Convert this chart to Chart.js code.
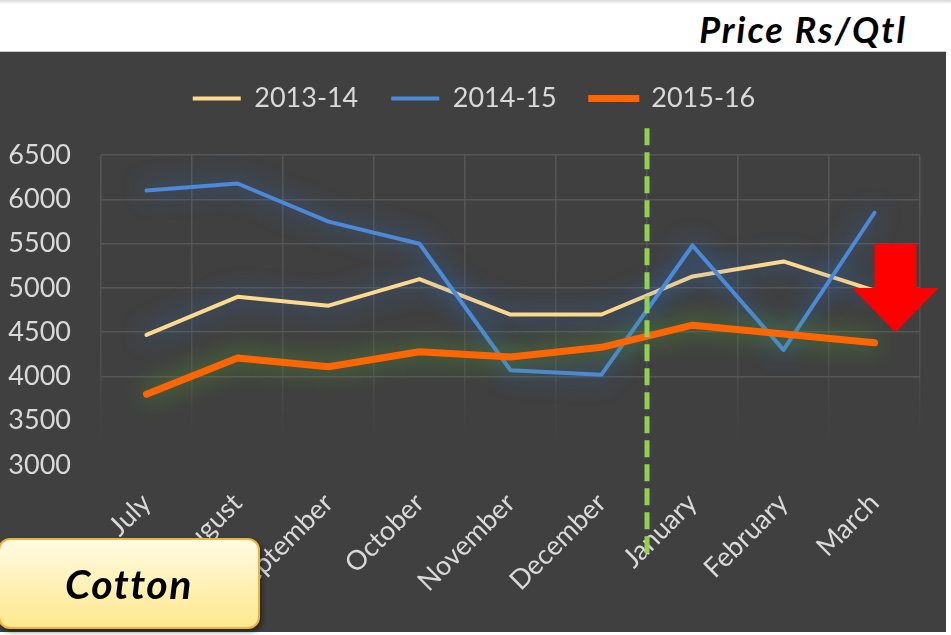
<!DOCTYPE html>
<html>
<head>
<meta charset="utf-8">
<script src="https://cdn.jsdelivr.net/npm/chart.js@4.4.1/dist/chart.umd.min.js"></script>
<style>
  body { margin: 0; background: #fff; width: 951px; height: 635px; overflow: hidden; position: relative; }
  #shade { position: absolute; left: 0; top: 0; width: 951px; height: 4px; background: linear-gradient(#d6d6d6, #fff); }
  #title { position: absolute; right: 44px; top: 11px; font: italic bold 36px Lato, sans-serif; line-height: 36px; letter-spacing: 2px; color: #000; }
  #rule { position: absolute; left: 0; top: 51px; width: 946px; height: 1px; background: #c8c8c8; }
  #panel { position: absolute; left: 0; top: 52px; width: 946px; height: 580px; background: #404040; }
  #badge {
    position: absolute; left: -2px; top: 538px; width: 262px; height: 91px; box-sizing: border-box;
    border: 2px solid #edb43c; border-radius: 12px;
    background: linear-gradient(#fffbe2, #ffe88e);
    box-shadow: 2px 3px 5px rgba(0,0,0,0.45);
    display: flex; align-items: center; justify-content: center;
    font: italic bold 41px Lato, sans-serif; letter-spacing: 1.5px; color: #000;
  }
</style>
</head>
<body>
<div id="shade"></div>
<div id="title">Price Rs/Qtl</div>
<div id="rule"></div>
<div id="panel"><canvas id="cotton"></canvas></div>
<div id="badge">Cotton</div>
<script>
const months = ["July", "August", "September", "October", "November", "December", "January", "February", "March"];
const seasons = ["2013-14", "2014-15", "2015-16"];
const price1314 = [4470, 4900, 4800, 5100, 4700, 4700, 5130, 5300, 4970];
const price1415 = [6100, 6180, 5750, 5500, 4070, 4020, 5480, 4300, 5850];
const price1516 = [3800, 4210, 4110, 4280, 4220, 4330, 4580, 4480, 4380];
const yTicks = [3000, 3500, 4000, 4500, 5000, 5500, 6000, 6500];

const lineColors = ["#ffd98c", "#4a8ad8", "#ff6600"];
const glowColors = ["rgb(45,115,205)", "rgb(45,115,205)", "rgb(85,155,45)"];
const lineWidths = [4, 4, 7];
const cutoff = 5.5;                       // season split, between December and January
const arrowFrom = 5500, arrowNeck = 5000, arrowTo = 4500;

const textColor = "#d9d9d9";
const gridColor = "#575757";

// soft glow behind every line
const glow = {
  id: "glow",
  beforeDatasetDraw(chart, args) {
    const c = chart.ctx;
    c.save();
    c.shadowColor = glowColors[args.index];
    c.shadowBlur = 24;
  },
  afterDatasetDraw(chart) {
    chart.ctx.restore();
  }
};

// legend sits a little right of the canvas centre in the original
const legendShift = {
  id: "legendShift",
  afterLayout(chart) {
    chart.legend.left += 14;
    chart.legend.right += 14;
  }
};

// dashed divider and the red down arrow
const marks = {
  id: "marks",
  afterDraw(chart) {
    const { ctx, chartArea: a, scales: { x, y } } = chart;
    const dx = x.getPixelForValue(cutoff);
    ctx.save();
    ctx.strokeStyle = "#92d050";
    ctx.lineWidth = 5;
    ctx.setLineDash([17, 7]);
    ctx.beginPath();
    ctx.moveTo(dx, a.top - 27);
    ctx.lineTo(dx, a.bottom + 93);
    ctx.stroke();

    const cx = x.getPixelForValue(months.length - 1) + 21;
    const t = y.getPixelForValue(arrowFrom), n = y.getPixelForValue(arrowNeck), p = y.getPixelForValue(arrowTo);
    ctx.setLineDash([]);
    ctx.fillStyle = "#ff0000";
    ctx.beginPath();
    ctx.moveTo(cx - 21, t);
    ctx.lineTo(cx + 21, t);
    ctx.lineTo(cx + 21, n);
    ctx.lineTo(cx + 43, n);
    ctx.lineTo(cx, p);
    ctx.lineTo(cx - 43, n);
    ctx.lineTo(cx - 21, n);
    ctx.closePath();
    ctx.fill();
    ctx.restore();
  }
};

const series = [price1314, price1415, price1516];

new Chart(document.getElementById("cotton"), {
  type: "line",
  data: {
    labels: months,
    datasets: seasons.map((s, i) => ({
      label: s,
      data: series[i],
      borderColor: lineColors[i],
      backgroundColor: lineColors[i],
      borderWidth: lineWidths[i],
      borderCapStyle: "round",
      borderJoinStyle: "round",
      pointRadius: 0,
      tension: 0,
      order: 2 - i
    }))
  },
  options: {
    responsive: true,
    maintainAspectRatio: false,
    animation: false,
    layout: { padding: { top: 0, right: 26, bottom: 0, left: 0 } },
    plugins: {
      tooltip: { enabled: false },
      // empty title used as a spacer between legend and plot
      title: { display: true, text: "", weight: 500, font: { size: 1 }, padding: { top: 0, bottom: 32 } },
      legend: {
        position: "top",
        labels: {
          color: textColor,
          font: { family: "Lato", size: 27 },
          boxWidth: 48,
          boxHeight: 4,
          padding: 33,
          generateLabels: chart => chart.data.datasets.map((d, i) => ({
            text: d.label,
            fillStyle: d.borderColor,
            strokeStyle: d.borderColor,
            lineWidth: i === 2 ? 3 : 0,
            lineCap: "round",
            fontColor: textColor,
            datasetIndex: i
          }))
        }
      }
    },
    scales: {
      x: {
        offset: true,
        grid: {
          offset: true,
          drawTicks: false,
          lineWidth: 1.5,
          color: c => {
            const ch = c.chart, a = ch.chartArea;
            if (!a) return gridColor;
            const g = ch.ctx.createLinearGradient(0, a.top, 0, a.bottom);
            g.addColorStop(0, gridColor);
            g.addColorStop(0.7, "#4f4f4f");
            g.addColorStop(1, "rgba(64,64,64,0)");
            return g;
          }
        },
        border: { display: false },
        ticks: {
          color: textColor,
          font: { family: "Lato", size: 27 },
          minRotation: 45,
          maxRotation: 45,
          autoSkip: false,
          padding: 22
        },
        afterFit: s => { s.height = 167; }
      },
      y: {
        min: 3000,
        max: 6500,
        afterBuildTicks: s => { s.ticks = yTicks.map(v => ({ value: v })); },
        grid: {
          drawTicks: false,
          lineWidth: 1.5,
          color: c => (c.tick && c.tick.value < 4000 ? "rgba(0,0,0,0)" : gridColor)
        },
        border: { display: false },
        ticks: {
          color: textColor,
          font: { family: "Lato", size: 27 },
          padding: 30,
          callback: v => String(v)
        },
        afterFit: s => { s.width = 101; }
      }
    }
  },
  plugins: [glow, legendShift, marks]
});
</script>
</body>
</html>
